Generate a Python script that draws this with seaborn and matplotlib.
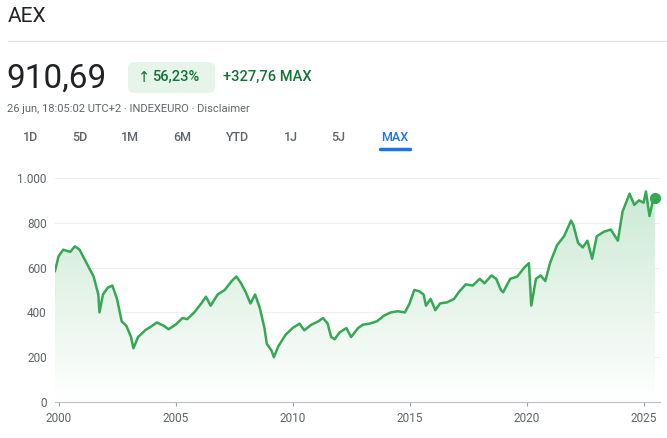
import numpy as np
import pandas as pd
import matplotlib
matplotlib.use("Agg")
import matplotlib.pyplot as plt
import seaborn as sns
from matplotlib.patches import FancyBboxPatch

# approximate AEX closing levels (decimal year, value)
years = [1999.85, 2000.0, 2000.2, 2000.5, 2000.7, 2000.9, 2001.1, 2001.3, 2001.5, 2001.7,
         2001.75, 2001.9, 2002.1, 2002.3, 2002.5, 2002.7, 2002.9, 2003.1, 2003.2, 2003.4,
         2003.7, 2004.0, 2004.2, 2004.5, 2004.7, 2005.0, 2005.3, 2005.5, 2005.8, 2006.1,
         2006.3, 2006.5, 2006.8, 2007.1, 2007.4, 2007.6, 2007.8, 2008.0, 2008.2, 2008.4,
         2008.6, 2008.8, 2008.9, 2009.1, 2009.2, 2009.4, 2009.7, 2010.0, 2010.3, 2010.5,
         2010.8, 2011.1, 2011.3, 2011.5, 2011.65, 2011.8, 2012.0, 2012.3, 2012.5, 2012.8,
         2013.0, 2013.3, 2013.6, 2013.9, 2014.2, 2014.5, 2014.8, 2015.0, 2015.2, 2015.4,
         2015.6, 2015.7, 2015.9, 2016.1, 2016.3, 2016.6, 2016.9, 2017.1, 2017.4, 2017.7,
         2018.0, 2018.2, 2018.5, 2018.7, 2018.9, 2019.0, 2019.3, 2019.6, 2019.9, 2020.1,
         2020.2, 2020.4, 2020.6, 2020.8, 2021.0, 2021.3, 2021.6, 2021.9, 2022.0, 2022.2,
         2022.4, 2022.6, 2022.8, 2023.0, 2023.3, 2023.6, 2023.9, 2024.1, 2024.4, 2024.6,
         2024.8, 2025.0, 2025.1, 2025.25, 2025.4, 2025.48]
values = [585, 650, 680, 670, 695, 680, 640, 600, 560, 480,
          400, 480, 510, 520, 460, 360, 340, 290, 240, 290,
          320, 340, 355, 340, 325, 345, 375, 370, 400, 440,
          470, 430, 480, 500, 540, 560, 530, 490, 440, 480,
          420, 330, 260, 230, 200, 250, 300, 330, 350, 320,
          345, 360, 375, 350, 290, 280, 310, 330, 290, 330,
          345, 350, 360, 385, 400, 405, 400, 440, 500, 495,
          480, 430, 460, 410, 440, 445, 460, 490, 525, 520,
          550, 530, 565, 550, 500, 490, 550, 560, 600, 620,
          430, 550, 565, 540, 620, 700, 740, 810, 790, 710,
          690, 720, 640, 740, 760, 770, 720, 850, 930, 880,
          900, 890, 940, 830, 900, 910]
year_ticks = [2000, 2005, 2010, 2015, 2020, 2025]
value_ticks = [0, 200, 400, 600, 800, 1000]
value_labels = ["0", "200", "400", "600", "800", "1.000"]
tabs = ["1D", "5D", "1M", "6M", "YTD", "1J", "5J", "MAX"]

df = pd.DataFrame({"year": years, "value": values})

plt.rcParams["font.family"] = "Roboto"
green = "#34a853"
fig = plt.figure(figsize=(6.67, 4.38), dpi=100)
ax = fig.add_axes([55 / 667, 1 - 402 / 438, 605 / 667, 224 / 438])

x0, x1 = 1999.85, 2025.7
ax.set_xlim(x0, x1)
ax.set_ylim(0, 1000)

# gradient fill under the line
grad = np.linspace(0, 1, 256).reshape(-1, 1)
cmap = matplotlib.colors.LinearSegmentedColormap.from_list("g", ["#ffffff", "#c9e8d1"])
img = ax.imshow(grad, extent=[x0, df.year.max(), 0, 1000], origin="lower",
                aspect="auto", cmap=cmap, zorder=1)
poly = ax.fill_between(df.year, df.value, 0, color="none")
img.set_clip_path(poly.get_paths()[0], transform=ax.transData)

sns.lineplot(data=df, x="year", y="value", ax=ax, color=green, lw=1.8, zorder=3)
ax.scatter([df.year.iloc[-1]], [df.value.iloc[-1]], s=50, color=green, zorder=4, clip_on=False)

for v in value_ticks[1:]:
    ax.axhline(v, color="#eeeeee", lw=0.8, zorder=0)
ax.set_yticks(value_ticks)
ax.set_yticklabels(value_labels)
ax.set_xticks(year_ticks)
ax.set_xticklabels([str(y) for y in year_ticks])
ax.tick_params(axis="y", length=0, labelsize=8.5, labelcolor="#5f6368", pad=6)
ax.tick_params(axis="x", length=3, color="#9aa0a6", labelsize=8.5, labelcolor="#5f6368", pad=4)
for s in ["top", "right", "left"]:
    ax.spines[s].set_visible(False)
ax.spines["bottom"].set_color("#bdc1c6")
ax.set_xlabel("")
ax.set_ylabel("")

# header
fig.text(8 / 667, 1 - 17 / 438, "AEX", fontsize=15, color="#202124", va="center")
fig.add_artist(plt.Line2D([8 / 667, 1], [1 - 41 / 438] * 2, color="#e0e0e0", lw=0.8))
fig.text(6 / 667, 1 - 79 / 438, "910,69", fontsize=24, color="#202124", va="center")
fig.add_artist(FancyBboxPatch((128 / 667, 1 - 93 / 438), 87 / 667, 31 / 438,
                              boxstyle="round,pad=0,rounding_size=0.012",
                              transform=fig.transFigure, fc="#e6f4ea", ec="none"))
fig.text(144 / 667, 1 - 77 / 438, "↑", fontsize=10.5, color="#137333",
         ha="center", va="center", family="DejaVu Sans")
fig.text(152 / 667, 1 - 77 / 438, "56,23%", fontsize=10.5, color="#137333",
         va="center", weight="medium")
fig.text(223 / 667, 1 - 77 / 438, "+327,76 MAX", fontsize=10.5, color="#137333",
         va="center", weight="medium")
fig.text(7 / 667, 1 - 109 / 438, "26 jun, 18:05:02 UTC+2 · INDEXEURO · Disclaimer",
         fontsize=8, color="#5f6368", va="center")
tab_x = [31, 80, 130, 182, 238, 291, 338, 395]
for t, x in zip(tabs, tab_x):
    c = "#1a73e8" if t == "MAX" else "#5f6368"
    fig.text(x / 667, 1 - 138 / 438, t, fontsize=9, color=c, ha="center", va="center",
             weight="medium")
fig.add_artist(plt.Line2D([380 / 667, 410 / 667], [1 - 149 / 438] * 2, color="#1a73e8",
                          lw=2.5, solid_capstyle="round"))

fig.savefig("out.png", dpi=100)
